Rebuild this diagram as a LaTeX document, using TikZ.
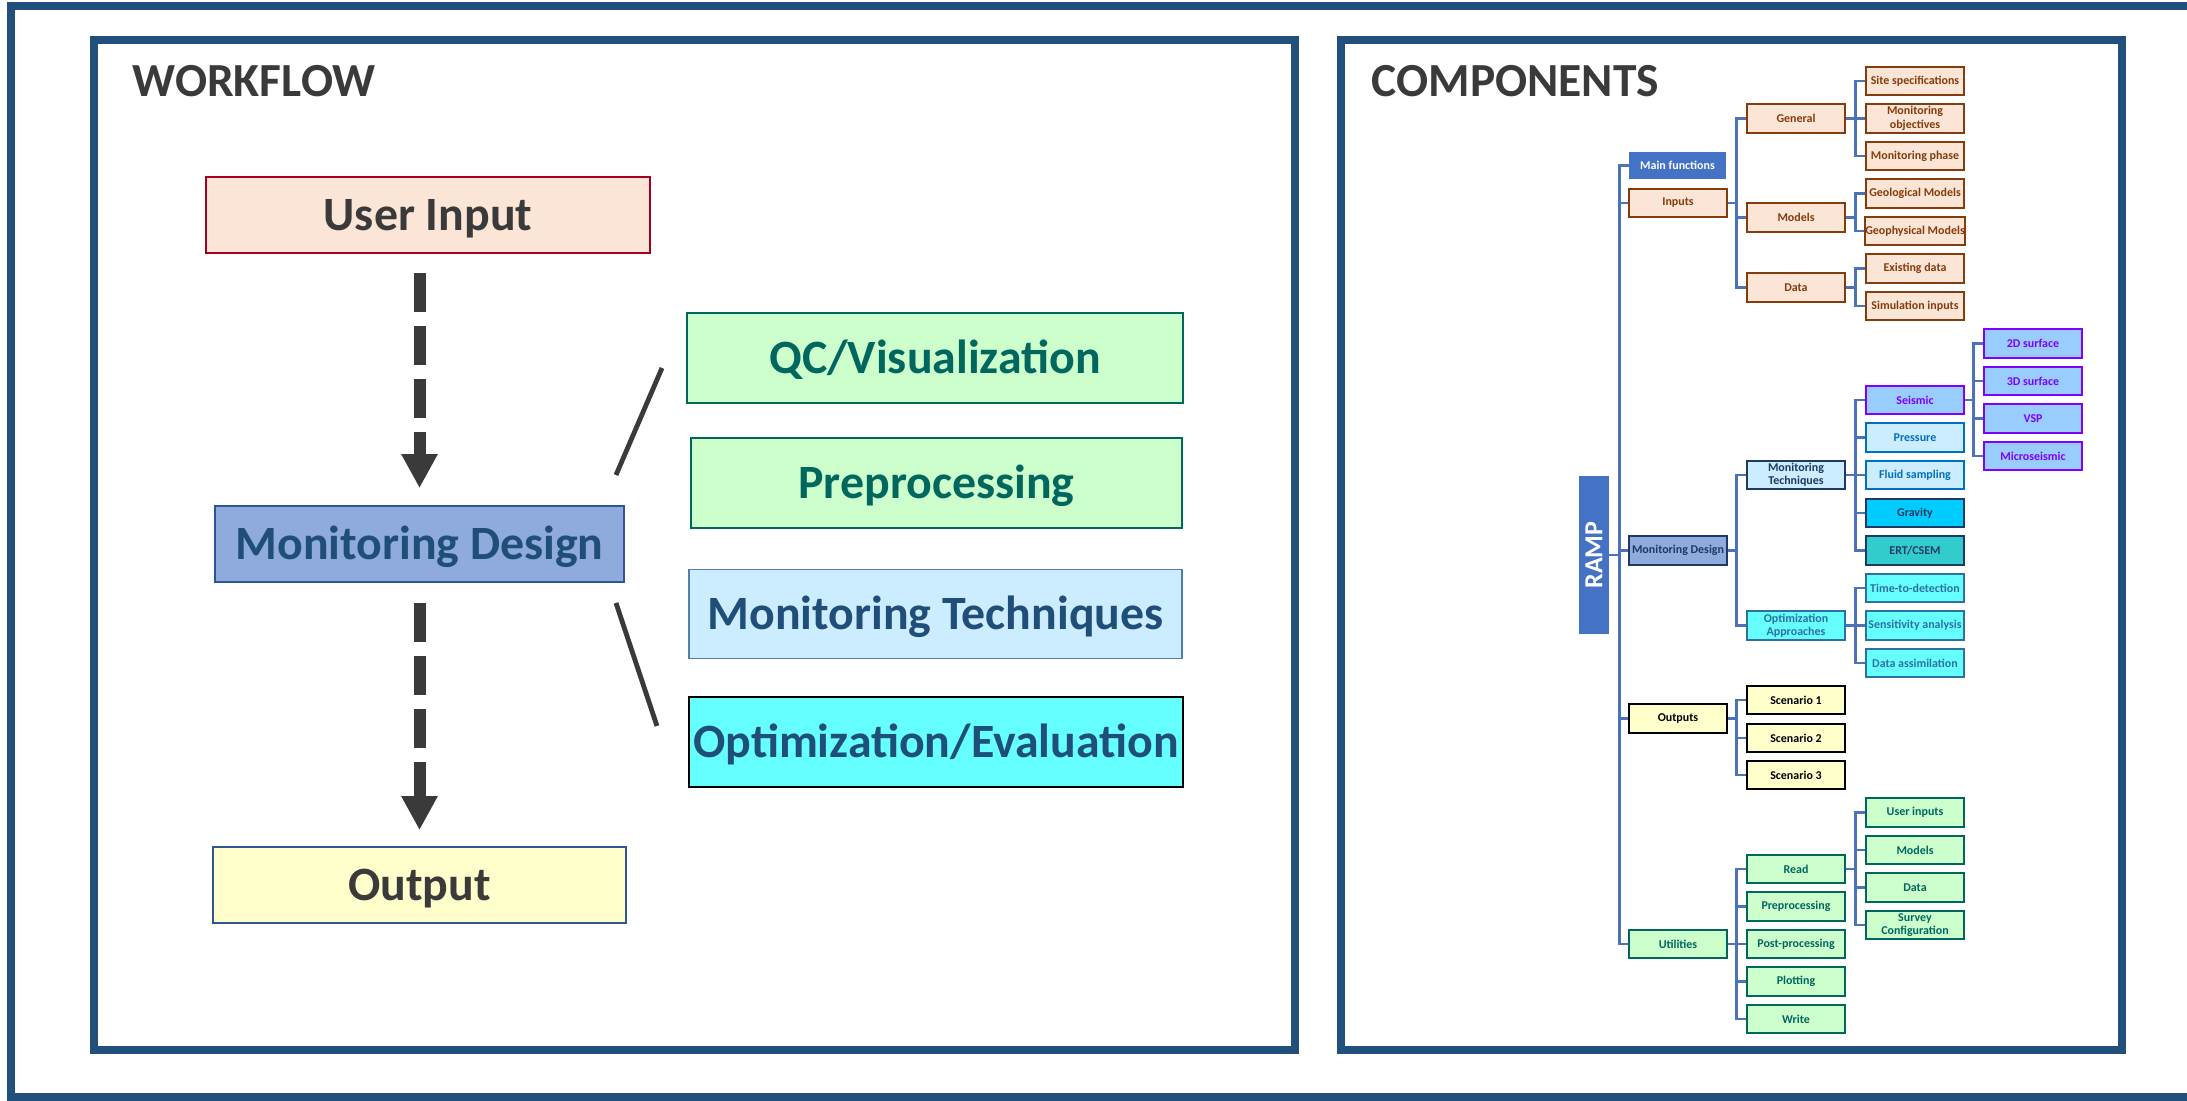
\documentclass[tikz,border=0pt]{standalone}
\usepackage{fontspec}
\setmainfont{Carlito}
\usetikzlibrary{arrows.meta}

\definecolor{framebl}{RGB}{33,80,124}
\definecolor{txtgray}{RGB}{58,58,58}
\definecolor{peach}{RGB}{251,229,214}
\definecolor{crimson}{RGB}{165,0,33}
\definecolor{brownc}{RGB}{132,60,12}
\definecolor{mdfill}{RGB}{143,170,220}
\definecolor{mdline}{RGB}{47,85,151}
\definecolor{navy}{RGB}{31,78,121}
\definecolor{darknavy}{RGB}{32,56,100}
\definecolor{lyellow}{RGB}{255,255,204}
\definecolor{lgreen}{RGB}{204,255,204}
\definecolor{teal}{RGB}{0,102,94}
\definecolor{lblue}{RGB}{204,236,255}
\definecolor{mtline}{RGB}{84,124,172}
\definecolor{cyanf}{RGB}{102,255,255}
\definecolor{steel}{RGB}{46,112,160}
\definecolor{mainbl}{RGB}{68,114,196}
\definecolor{seisf}{RGB}{153,204,255}
\definecolor{violet}{RGB}{127,0,255}
\definecolor{presl}{RGB}{0,112,192}
\definecolor{gravf}{RGB}{0,204,255}
\definecolor{ertf}{RGB}{51,204,204}
\definecolor{branchc}{RGB}{76,114,184}

\newcommand{\wffont}{\fontsize{13.6}{16}\selectfont\bfseries}
\newcommand{\treefont}{\fontsize{3.4}{3.8}\selectfont\bfseries}

\tikzset{
  panel/.style={draw=framebl, line width=0.08cm},
  title/.style={anchor=base west, inner sep=0pt, text=txtgray, font=\fontsize{13.5}{16}\selectfont\bfseries},
  wbox/.style={draw, line width=0.016cm, inner sep=0pt, font=\wffont, text height=9pt, text depth=0pt},
  dasharrow/.style={draw=txtgray, line width=0.12cm, dash pattern=on 0.39cm off 0.14cm,
    -{Triangle[width=0.34cm,length=0.34cm]}},
  slant/.style={draw=txtgray, line width=0.048cm},
  tbox/.style={draw, line width=0.022cm, minimum width=0.975cm, minimum height=0.285cm,
    inner sep=0pt, align=center, font=\treefont},
  tinput/.style={tbox, fill=peach, draw=brownc, text=brownc},
  tmain/.style={tbox, fill=mainbl, draw=mainbl, text=white, minimum width=0.95cm, minimum height=0.25cm},
  tdesign/.style={tbox, fill=mdfill, draw=darknavy, text=darknavy},
  ttech/.style={tbox, fill=lblue, draw=darknavy, text=darknavy},
  tviolet/.style={tbox, fill=seisf, draw=violet, text=violet},
  tlight/.style={tbox, fill=lblue, draw=presl, text=presl},
  tgrav/.style={tbox, fill=gravf, draw=darknavy, text=darknavy},
  tert/.style={tbox, fill=ertf, draw=darknavy, text=darknavy},
  tcyan/.style={tbox, fill=cyanf, draw=steel, text=steel},
  tout/.style={tbox, fill=lyellow, draw=black, text=black},
  tutil/.style={tbox, fill=lgreen, draw=teal, text=teal},
  branch/.style={draw=branchc, line width=0.028cm}
}

\begin{document}
\begin{tikzpicture}[x=0.01cm, y=-0.01cm]
\useasboundingbox (0,0) rectangle (2187,1101);
\clip (0,0) rectangle (2187,1101);

\draw[panel] (11,6.5) rectangle (2192,1097);
\draw[panel] (94,40) rectangle (1294.5,1050);
\draw[panel] (1340.5,40) rectangle (2122,1050);

\node[title] (wftitle) at (132,97) {WORKFLOW};
\node[title] (comptitle) at (1371,97) {COMPONENTS};

\node[wbox, fill=peach, draw=crimson, text=txtgray, minimum width=4.44cm, minimum height=0.76cm] (userin) at (428,215) {User Input};
\node[wbox, fill=mdfill, draw=mdline, text=navy, minimum width=4.09cm, minimum height=0.76cm] (design) at (419.5,544) {Monitoring Design};
\node[wbox, fill=lyellow, draw=mdline, text=txtgray, minimum width=4.13cm, minimum height=0.76cm] (output) at (419.5,885) {Output};
\node[wbox, fill=lgreen, draw=teal, text=teal, minimum width=4.96cm, minimum height=0.9cm] (qcvis) at (935,358) {QC/Visualization};
\node[wbox, fill=lgreen, draw=teal, text=teal, minimum width=4.91cm, minimum height=0.9cm] (preproc) at (936.5,483) {Preprocessing};
\node[wbox, fill=lblue, draw=mtline, text=navy, minimum width=4.93cm, minimum height=0.89cm] (montech) at (935.5,614) {Monitoring Techniques};
\node[wbox, fill=cyanf, draw=black, text=navy, minimum width=4.94cm, minimum height=0.9cm] (optim) at (936,742) {Optimization/Evaluation};

\draw[dasharrow, shorten <=0.19cm, shorten >=0.17cm] (design.north |- userin.south) -- (design.north);
\draw[dasharrow, shorten <=0.2cm, shorten >=0.16cm] (design.south) -- (design.south |- output.north);

\coordinate (upfoot) at (616,475);
\coordinate (uptop) at (662,368);
\coordinate (downtop) at (616,603);
\coordinate (downfoot) at (657,726);
\draw[slant] (upfoot) -- (uptop);
\draw[slant] (downtop) -- (downfoot);

\node[tbox, fill=mainbl, draw=mainbl, text=white, minimum width=1.56cm, minimum height=0.27cm,
  rotate=90, font=\fontsize{7.4}{8}\selectfont\bfseries] (ramp) at (1594,555) {RAMP};

\node[tmain] (mainf) at (1677.5,165.5) {Main functions};
\node[tinput] (inputs) at (1678,203) {Inputs};
\node[tinput] (general) at (1796,118.5) {General};
\node[tinput] (models) at (1796,217.5) {Models};
\node[tinput] (data) at (1796,287.5) {Data};
\node[tinput] (sitespec) at (1915,81) {Site specifications};
\node[tinput] (monobj) at (1915,118.5) {Monitoring\\objectives};
\node[tinput] (monphase) at (1915,156) {Monitoring phase};
\node[tinput] (geomod) at (1915,193.5) {Geological Models};
\node[tinput] (geophys) at (1915,231) {Geophysical Models};
\node[tinput] (exist) at (1915,268.5) {Existing data};
\node[tinput] (siminp) at (1915,306) {Simulation inputs};

\node[tdesign] (mdesign) at (1678,550.5) {Monitoring Design};
\node[ttech] (mtech) at (1796,475) {Monitoring\\Techniques};
\node[tcyan] (optappr) at (1796,625.5) {Optimization\\Approaches};
\node[tviolet] (seismic) at (1915,400) {Seismic};
\node[tlight] (pressure) at (1915,437.5) {Pressure};
\node[tlight] (fluid) at (1915,475) {Fluid sampling};
\node[tgrav] (gravity) at (1915,513) {Gravity};
\node[tert] (ert) at (1915,550.5) {ERT/CSEM};
\node[tcyan] (ttd) at (1915,588) {Time-to-detection};
\node[tcyan] (sens) at (1915,625.5) {Sensitivity analysis};
\node[tcyan] (assim) at (1915,663) {Data assimilation};
\node[tviolet] (surf2d) at (2033,343.5) {2D surface};
\node[tviolet] (surf3d) at (2033,381) {3D surface};
\node[tviolet] (vsp) at (2033,418.5) {VSP};
\node[tviolet] (microseis) at (2033,456) {Microseismic};

\node[tout] (outputs) at (1678,718.5) {Outputs};
\node[tout] (scen1) at (1796,700) {Scenario 1};
\node[tout] (scen2) at (1796,738) {Scenario 2};
\node[tout] (scen3) at (1796,775) {Scenario 3};

\node[tutil] (utils) at (1678,944) {Utilities};
\node[tutil] (read) at (1796,869) {Read};
\node[tutil] (upre) at (1796,906.5) {Preprocessing};
\node[tutil] (upost) at (1796,944) {Post-processing};
\node[tutil] (plot) at (1796,981.5) {Plotting};
\node[tutil] (write) at (1796,1019) {Write};
\node[tutil] (userinp) at (1915,812.5) {User inputs};
\node[tutil] (rmodels) at (1915,850) {Models};
\node[tutil] (rdata) at (1915,887.5) {Data};
\node[tutil] (survey) at (1915,925) {Survey\\Configuration};

\draw[branch] (ramp.south) -- ++(10.5,0) coordinate (root);
\draw[branch] (root) |- (mainf.west);
\draw[branch] (root) |- (inputs.west);
\draw[branch] (root) |- (mdesign.west);
\draw[branch] (root) |- (outputs.west);
\draw[branch] (root) |- (utils.west);

\draw[branch] (inputs.east) -- ++(9,0) |- (general.west);
\draw[branch] (inputs.east) -- ++(9,0) |- (models.west);
\draw[branch] (inputs.east) -- ++(9,0) |- (data.west);
\draw[branch] (general.east) -- ++(9.5,0) |- (sitespec.west);
\draw[branch] (general.east) -- ++(9.5,0) |- (monobj.west);
\draw[branch] (general.east) -- ++(9.5,0) |- (monphase.west);
\draw[branch] (models.east) -- ++(9.5,0) |- (geomod.west);
\draw[branch] (models.east) -- ++(9.5,0) |- (geophys.west);
\draw[branch] (data.east) -- ++(9.5,0) |- (exist.west);
\draw[branch] (data.east) -- ++(9.5,0) |- (siminp.west);

\draw[branch] (mdesign.east) -- ++(9,0) |- (mtech.west);
\draw[branch] (mdesign.east) -- ++(9,0) |- (optappr.west);
\draw[branch] (mtech.east) -- ++(9.5,0) |- (seismic.west);
\draw[branch] (mtech.east) -- ++(9.5,0) |- (pressure.west);
\draw[branch] (mtech.east) -- ++(9.5,0) |- (fluid.west);
\draw[branch] (mtech.east) -- ++(9.5,0) |- (gravity.west);
\draw[branch] (mtech.east) -- ++(9.5,0) |- (ert.west);
\draw[branch] (seismic.east) -- ++(9,0) |- (surf2d.west);
\draw[branch] (seismic.east) -- ++(9,0) |- (surf3d.west);
\draw[branch] (seismic.east) -- ++(9,0) |- (vsp.west);
\draw[branch] (seismic.east) -- ++(9,0) |- (microseis.west);
\draw[branch] (optappr.east) -- ++(9.5,0) |- (ttd.west);
\draw[branch] (optappr.east) -- ++(9.5,0) |- (sens.west);
\draw[branch] (optappr.east) -- ++(9.5,0) |- (assim.west);

\draw[branch] (outputs.east) -- ++(9,0) |- (scen1.west);
\draw[branch] (outputs.east) -- ++(9,0) |- (scen2.west);
\draw[branch] (outputs.east) -- ++(9,0) |- (scen3.west);

\draw[branch] (utils.east) -- ++(9,0) |- (read.west);
\draw[branch] (utils.east) -- ++(9,0) |- (upre.west);
\draw[branch] (utils.east) -- ++(9,0) |- (upost.west);
\draw[branch] (utils.east) -- ++(9,0) |- (plot.west);
\draw[branch] (utils.east) -- ++(9,0) |- (write.west);
\draw[branch] (read.east) -- ++(9.5,0) |- (userinp.west);
\draw[branch] (read.east) -- ++(9.5,0) |- (rmodels.west);
\draw[branch] (read.east) -- ++(9.5,0) |- (rdata.west);
\draw[branch] (read.east) -- ++(9.5,0) |- (survey.west);

\end{tikzpicture}
\end{document}
